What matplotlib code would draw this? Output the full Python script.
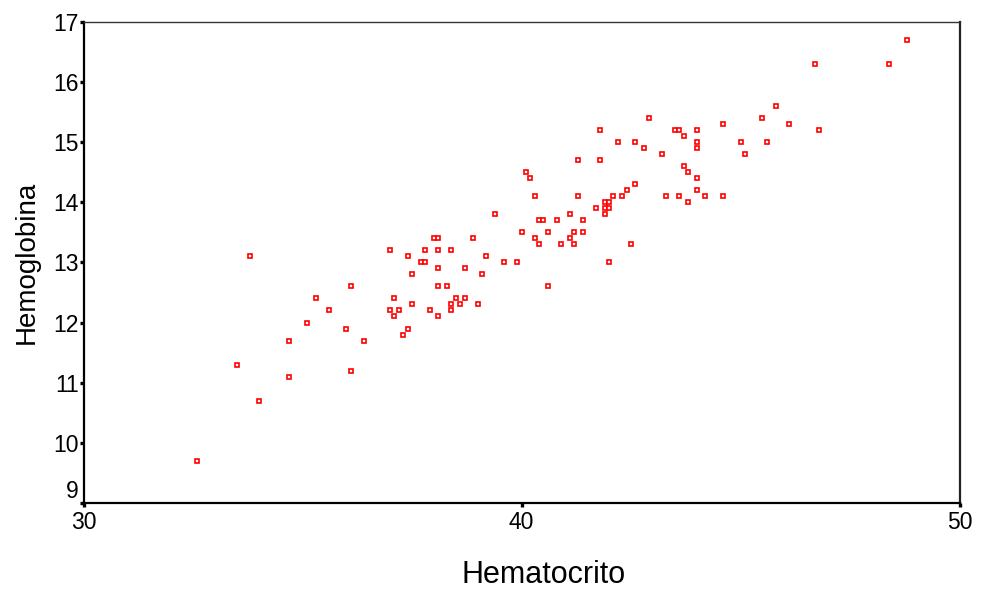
import matplotlib
matplotlib.use("Agg")
import matplotlib.pyplot as plt

hematocrito = [
    32.6, 33.5, 33.8, 34.0, 34.7, 34.7, 35.1, 35.3, 35.6, 36.0, 36.1, 36.1, 36.4,
    37.0, 37.1, 37.0, 37.2, 37.1, 37.4, 37.4, 37.3, 37.5, 37.5, 37.7, 37.8, 37.8,
    37.9, 38.0, 38.1, 38.1, 38.1, 38.1, 38.1, 38.3, 38.4, 38.4, 38.4, 38.5, 38.6,
    38.7, 38.7, 38.9, 39.0, 39.1, 39.2, 39.4, 39.6, 39.9, 40.0, 40.1, 40.2, 40.3,
    40.3, 40.4, 40.4, 40.5, 40.6, 40.6, 40.8, 40.9, 41.1, 41.1, 41.2, 41.2, 41.3,
    41.3, 41.4, 41.4, 41.7, 41.8, 41.8, 41.9, 41.9, 41.9, 42.0, 42.0, 42.0, 42.1,
    42.2, 42.3, 42.4, 42.5, 42.6, 42.6, 42.8, 42.9, 43.2, 43.3, 43.5, 43.6, 43.6,
    43.7, 43.7, 43.8, 43.8, 44.0, 44.0, 44.0, 44.0, 44.0, 44.2, 44.6, 44.6, 45.0,
    45.1, 45.5, 45.6, 45.8, 46.1, 46.7, 46.8, 48.4, 48.8,
]
hemoglobina = [
    9.7, 11.3, 13.1, 10.7, 11.1, 11.7, 12.0, 12.4, 12.2, 11.9, 12.6, 11.2, 11.7,
    13.2, 12.4, 12.2, 12.2, 12.1, 13.1, 11.9, 11.8, 12.8, 12.3, 13.0, 13.0, 13.2,
    12.2, 13.4, 13.4, 13.2, 12.9, 12.6, 12.1, 12.6, 13.2, 12.3, 12.2, 12.4, 12.3,
    12.9, 12.4, 13.4, 12.3, 12.8, 13.1, 13.8, 13.0, 13.0, 13.5, 14.5, 14.4, 14.1,
    13.4, 13.7, 13.3, 13.7, 13.5, 12.6, 13.7, 13.3, 13.8, 13.4, 13.5, 13.3, 14.7,
    14.1, 13.7, 13.5, 13.9, 15.2, 14.7, 14.0, 13.9, 13.8, 14.0, 13.9, 13.0, 14.1,
    15.0, 14.1, 14.2, 13.3, 15.0, 14.3, 14.9, 15.4, 14.8, 14.1, 15.2, 15.2, 14.1,
    15.1, 14.6, 14.5, 14.0, 15.2, 15.0, 14.9, 14.4, 14.2, 14.1, 15.3, 14.1, 15.0,
    14.8, 15.4, 15.0, 15.6, 15.3, 16.3, 15.2, 16.3, 16.7,
]
x_ticks = [30, 40, 50]
y_ticks = [9, 10, 11, 12, 13, 14, 15, 16, 17]

plt.rcParams['font.family'] = ['Liberation Sans', 'DejaVu Sans']

fig = plt.figure(figsize=(9.84, 5.90), dpi=100)
ax = fig.add_axes([83.5 / 984, 1 - 503 / 590, (959.5 - 83.5) / 984, (503 - 21.7) / 590])

ax.plot(hematocrito, hemoglobina, linestyle='none', marker='s', markersize=3.2,
        markerfacecolor='white', markeredgecolor='#ff0000', markeredgewidth=1.2)

ax.set_xlim(30, 50)
ax.set_ylim(9, 17)
ax.set_xticks(x_ticks)
ax.set_yticks(y_ticks)
ax.set_xticklabels([str(v) for v in x_ticks])
ax.set_yticklabels([str(v) for v in y_ticks])

ax.tick_params(axis='both', direction='out', length=2.8, width=2.4, color='black',
               labelsize=16.5, labelcolor='black')
ax.tick_params(axis='y', pad=0.5)
ax.tick_params(axis='x', pad=3)

for side in ['left', 'bottom']:
    ax.spines[side].set_linewidth(1.6)
    ax.spines[side].set_color('black')
ax.spines['top'].set_linewidth(1.0)
ax.spines['top'].set_color('#333333')
ax.spines['right'].set_linewidth(1.6)
ax.spines['right'].set_color('#222222')

ax.set_xlabel('Hematocrito', fontsize=22, labelpad=19)
ax.xaxis.label.set_x((544 - 83.5) / 876)
ax.set_ylabel('Hemoglobina', fontsize=20, labelpad=10)

# lift the lowest y label like the reference
ax.get_yticklabels()[0].set_va('bottom')

fig.savefig('out.png', dpi=100, facecolor='white')
